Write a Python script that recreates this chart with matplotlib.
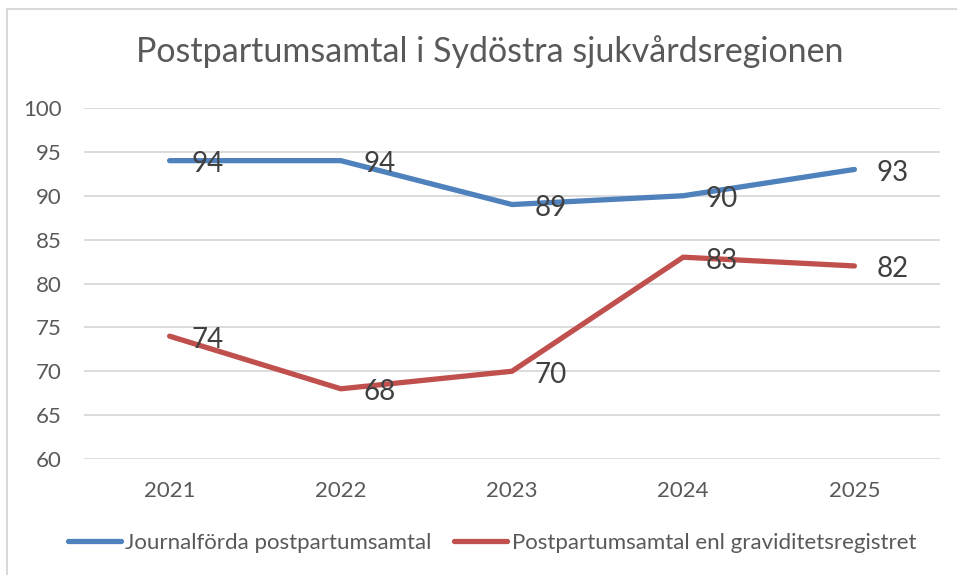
import matplotlib
matplotlib.use("Agg")
import matplotlib.pyplot as plt
from matplotlib.lines import Line2D

years = ["2021", "2022", "2023", "2024", "2025"]
journal = [94, 94, 89, 90, 93]
register = [74, 68, 70, 83, 82]
series_names = ["Journalförda postpartumsamtal", "Postpartumsamtal enl graviditetsregistret"]
title = "Postpartumsamtal i Sydöstra sjukvårdsregionen"
yticks = [60, 65, 70, 75, 80, 85, 90, 95, 100]

plt.rcParams['font.family'] = ['Lato', 'DejaVu Sans']

fig = plt.figure(figsize=(9.57, 5.75), dpi=100)
ax = fig.add_axes([84/957, 1-459/575, (940-84)/957, (459-108)/575])

x = list(range(len(years)))
c1, c2 = "#4F81BD", "#C0504D"
ax.plot(x, journal, color=c1, lw=3.8, solid_capstyle="round", solid_joinstyle="round", label=series_names[0], zorder=3)
ax.plot(x, register, color=c2, lw=3.8, solid_capstyle="round", solid_joinstyle="round", label=series_names[1], zorder=3)

for xs, ys in ((x, journal), (x, register)):
    for xi, yi in zip(xs, ys):
        ax.annotate(str(yi), (xi, yi), xytext=(16, -2.5), textcoords="offset points",
                    ha="left", va="center", fontsize=20, color="#404040", zorder=4)

ax.set_xlim(-0.5, len(years) - 0.5)
ax.set_ylim(60, 100)
ax.set_yticks(yticks)
ax.set_xticks(x)
ax.set_xticklabels(years)
ax.tick_params(axis="both", length=0, labelsize=16, labelcolor="#595959")
ax.tick_params(axis="y", pad=16)
ax.tick_params(axis="x", pad=16)
ax.grid(axis="y", color="#D9D9D9", lw=1.3)
ax.set_axisbelow(True)
for s in ax.spines.values():
    s.set_visible(False)

fig.text(490/957, 1-52/575, title, ha="center", va="center", fontsize=24.5, color="#595959")

leg = fig.legend(loc="center", bbox_to_anchor=(492/957, 1-543/575), ncol=2, frameon=False,
                 fontsize=16, handlelength=2.4, handletextpad=0.2, columnspacing=1.0,
                 labelcolor="#595959")

fig.add_artist(Line2D([7/957, 7/957], [0, 1-9/575], color="#D9D9D9", lw=1.5, transform=fig.transFigure))
fig.add_artist(Line2D([7/957, 1], [1-9/575, 1-9/575], color="#D9D9D9", lw=1.5, transform=fig.transFigure))

fig.savefig("out.png", dpi=100, facecolor="white")
